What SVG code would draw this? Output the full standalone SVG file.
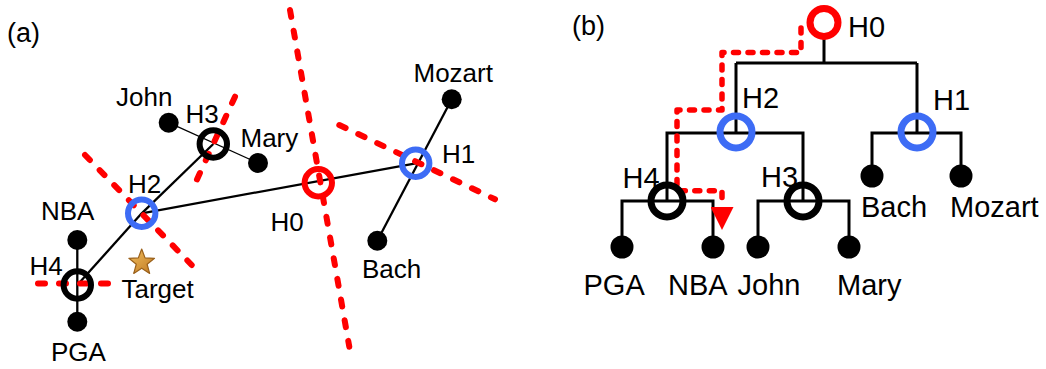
<svg xmlns="http://www.w3.org/2000/svg" width="1046" height="369" viewBox="0 0 1046 369">
<style>
text{font-family:"Liberation Sans",Arial,sans-serif;fill:#000}
.la{font-size:26px}
.lb{font-size:29px}
.ttl{font-size:27px}
.ea{stroke:#000;stroke-width:2.3;fill:none}
.thin{stroke:#000;stroke-width:1.3;fill:none}
.eb{stroke:#000;stroke-width:3;fill:none;stroke-linejoin:miter}
.cut{stroke:#ff0000;stroke-width:6;stroke-dasharray:7 14;stroke-linecap:round;fill:none}
.path{stroke:#ff0000;stroke-width:5.5;stroke-dasharray:5 9.5;stroke-linecap:round;stroke-linejoin:round;fill:none}
.red{stroke:#ff0000;fill:none}
.blue{stroke:#3d6cf5;fill:none}
.blk{stroke:#000;fill:none}
.ra{stroke-width:6}
.rb{stroke-width:7}
.dot{fill:#000}
</style>
<defs>
<marker id="arr" markerUnits="userSpaceOnUse" viewBox="0 0 23 23" refX="0" refY="11.5" markerWidth="23" markerHeight="23" orient="auto">
<path d="M0 0 L23 11.5 L0 23 Z" fill="#ff0000"/>
</marker>
<linearGradient id="gold" x1="0" y1="0" x2="1" y2="1">
<stop offset="0" stop-color="#f2c060"/>
<stop offset="1" stop-color="#c07820"/>
</linearGradient>
</defs>

<text class="ttl" x="7" y="42">(a)</text>
<text class="ttl" x="572" y="35">(b)</text>

<!-- Panel (a) connectors -->
<g id="a-connectors">
<line class="ea" x1="77.3" y1="285" x2="141.7" y2="213.3"/>
<line class="ea" x1="141.7" y1="213.3" x2="213.3" y2="144"/>
<line class="ea" x1="141.7" y1="213.3" x2="415.7" y2="163.3"/>
<line class="ea" x1="377.3" y1="240.7" x2="451.7" y2="99.3"/>
<line class="ea" x1="77.3" y1="240" x2="77.3" y2="321.7"/>
<line class="thin" x1="168.7" y1="122.7" x2="258" y2="163"/>
</g>
<g id="a-partitions">
<line class="cut" x1="85" y1="155" x2="191.7" y2="265"/>
<line class="cut" x1="235" y1="96.7" x2="196.7" y2="180"/>
<line class="cut" x1="38" y1="283.5" x2="109" y2="283.5"/>
<line class="cut" x1="290" y1="10" x2="349.3" y2="346.7"/>
<line class="cut" x1="339.3" y1="125" x2="495" y2="199.3"/>
</g>

<!-- Panel (a) nodes -->
<g id="a-H0"><circle class="red ra" cx="318.3" cy="182.7" r="13.7"/><text class="la" x="270.5" y="230.7">H0</text></g>
<g id="a-H1"><circle class="blue ra" cx="415.7" cy="163.3" r="13.7"/><text class="la" x="442" y="162.7">H1</text></g>
<g id="a-H2"><circle class="blue ra" cx="141.7" cy="213.3" r="13.7"/><text class="la" x="128" y="192.7">H2</text></g>
<g id="a-H3"><circle class="blk ra" cx="213.3" cy="144" r="13.7"/><text class="la" x="185.5" y="123.3">H3</text></g>
<g id="a-H4"><circle class="blk ra" cx="77.3" cy="285" r="13.7"/><text class="la" x="29.5" y="275">H4</text></g>
<g id="a-John"><circle class="dot" cx="168.7" cy="122.7" r="10"/><text class="la" x="116" y="106">John</text></g>
<g id="a-Mary"><circle class="dot" cx="258" cy="163" r="10"/><text class="la" x="240.5" y="146.7">Mary</text></g>
<g id="a-NBA"><circle class="dot" cx="77.3" cy="240" r="10"/><text class="la" x="41" y="220">NBA</text></g>
<g id="a-PGA"><circle class="dot" cx="77.3" cy="321.7" r="10"/><text class="la" x="51" y="361">PGA</text></g>
<g id="a-Mozart"><circle class="dot" cx="451.7" cy="99.3" r="10"/><text class="la" x="413.5" y="81.7">Mozart</text></g>
<g id="a-Bach"><circle class="dot" cx="377.3" cy="240.7" r="10"/><text class="la" x="362" y="278.3">Bach</text></g>
<g id="a-Target">
<path transform="translate(141.7 262.5)" d="M0,-13.5 L3.35,-4.6 L12.84,-4.17 L5.43,1.76 L7.94,10.92 L0,5.7 L-7.94,10.92 L-5.43,1.76 L-12.84,-4.17 L-3.35,-4.6 Z" fill="url(#gold)" stroke="#9a601a" stroke-width="1.2" stroke-linejoin="round"/>
<text class="la" x="121.5" y="297.5">Target</text>
</g>

<!-- Panel (b) connectors -->
<g id="b-connectors">
<path class="eb" d="M824 38 V63 M736 63 H917 M736 63 V132 M917 63 V132"/>
<path class="eb" d="M667 201 V133 H803 V201 M736 132 V133"/>
<path class="eb" d="M622 247 V201 H713 V247"/>
<path class="eb" d="M758 247 V201 H849 V247"/>
<path class="eb" d="M872 176 V133 H961 V176"/>
</g>
<g id="b-search-path">
<path class="path" d="M801 28 V52.5 H722 V110 H677 V190.7 H722 V207" marker-end="url(#arr)"/>
</g>

<!-- Panel (b) nodes -->
<g id="b-H0"><circle class="red rb" cx="824" cy="22.5" r="14"/><text class="lb" x="848" y="36.7">H0</text></g>
<g id="b-H1"><circle class="blue rb" cx="917" cy="132" r="16"/><text class="lb" x="933" y="110">H1</text></g>
<g id="b-H2"><circle class="blue rb" cx="736" cy="132" r="16"/><text class="lb" x="742" y="107.7">H2</text></g>
<g id="b-H3"><circle class="blk rb" cx="803" cy="201" r="16"/><text class="lb" x="761" y="187.3">H3</text></g>
<g id="b-H4"><circle class="blk rb" cx="667" cy="201" r="16"/><text class="lb" x="622.5" y="188.3">H4</text></g>
<g id="b-PGA"><circle class="dot" cx="622" cy="247" r="11.5"/><text class="lb" x="583.5" y="295">PGA</text></g>
<g id="b-NBA"><circle class="dot" cx="713" cy="247" r="11.5"/><text class="lb" x="668" y="295">NBA</text></g>
<g id="b-John"><circle class="dot" cx="758" cy="247" r="11.5"/><text class="lb" x="737.5" y="295">John</text></g>
<g id="b-Mary"><circle class="dot" cx="849" cy="247" r="11.5"/><text class="lb" x="837" y="295">Mary</text></g>
<g id="b-Bach"><circle class="dot" cx="872" cy="176" r="11.5"/><text class="lb" x="861" y="216.7">Bach</text></g>
<g id="b-Mozart"><circle class="dot" cx="961" cy="176" r="11.5"/><text class="lb" x="950" y="216.7">Mozart</text></g>
</svg>
